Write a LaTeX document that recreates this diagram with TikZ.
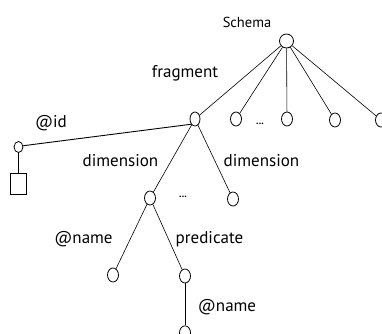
\documentclass[tikz,border=0pt]{standalone}
\usepackage{fontspec}
\setmainfont{PT Sans}
\usetikzlibrary{shapes.geometric, positioning}

\begin{document}
\begin{tikzpicture}[x=1pt, y=-1pt, line width=0.6pt,
    elem/.style={draw, ellipse, inner sep=0pt, minimum width=11pt, minimum height=14pt, line width=0.8pt},
    tag/.style={anchor=base, inner sep=0pt, font=\fontsize{17}{20}\selectfont},
    more/.style={anchor=base, inner sep=0pt, font=\fontsize{10}{12}\selectfont\bfseries}]
    \useasboundingbox (0,0) rectangle (382,333);

    \node[tag, font=\fontsize{14.5}{17}\selectfont] (schema-label) at (247,27) {Schema};
    \node[elem, minimum width=14pt] (root) at (286.5,41) {};
    \node[elem, minimum width=10pt] (fragment) at (195,119) {};
    \node[elem] (frag-b) at (236,119) {};
    \node[more] (frag-dots) at (260,124) {...};
    \node[elem] (frag-c) at (287,119) {};
    \node[elem] (frag-d) at (335,120) {};
    \node[elem] (frag-e) at (381,120) {};
    \node[elem, minimum width=9pt, minimum height=11pt] (id-attr) at (18.5,147) {};
    \node[draw, line width=0.8pt, inner sep=0pt, minimum width=16pt, minimum height=21pt, below = 20.5pt of id-attr] (id-value) {};
    \node[elem] (dim-left) at (150,198) {};
    \node[more] (dim-dots) at (183,197) {...};
    \node[elem] (dim-right) at (233,199) {};
    \node[elem] (name-attr) at (113,275) {};
    \node[elem] (predicate) at (185,276) {};
    \node[elem, below = 42pt of predicate] (pred-name) {};

    \node[tag] (fragment-label) at (185,77) {fragment};
    \node[tag] (id-label) at (51,127) {@id};
    \node[tag] (dim-left-label) at (120.5,166) {dimension};
    \node[tag] (dim-right-label) at (261.5,166) {dimension};
    \node[tag] (name-label) at (83.5,243) {@name};
    \node[tag] (predicate-label) at (209.5,243) {predicate};
    \node[tag] (pred-name-label) at (227,311) {@name};

    \draw (root) -- (fragment);
    \draw (root) -- (frag-b);
    \draw (root) -- (frag-c);
    \draw (root) -- (frag-d);
    \draw (root) -- (frag-e);
    \draw[line width=0.9pt] (fragment.south west) -- (id-attr.15);
    \draw (id-attr) -- (id-value);
    \draw (fragment) -- (dim-left);
    \draw (fragment) -- (dim-right);
    \draw (dim-left) -- (name-attr);
    \draw (dim-left) -- (predicate);
    \draw (predicate) -- (pred-name);

\end{tikzpicture}
\end{document}
